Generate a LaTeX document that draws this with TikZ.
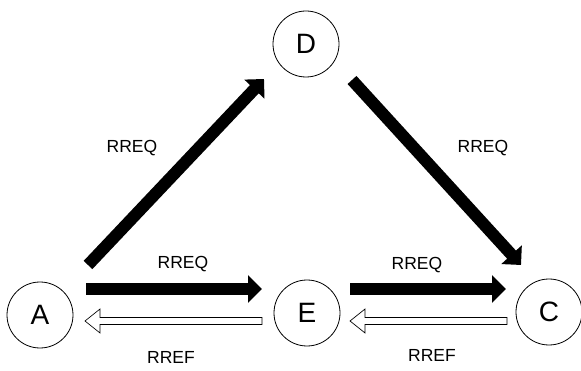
\documentclass[tikz,border=0pt]{standalone}
\usepackage{fontspec}
\setmainfont{Liberation Sans}
\usetikzlibrary{arrows.meta,calc}
\begin{document}
\begin{tikzpicture}[x=1pt,y=-1pt,
  station/.style={draw=black,line width=0.8pt,circle,minimum size=66pt,inner sep=0pt,font=\fontsize{28}{30}\selectfont},
  lbl/.style={font=\fontsize{17.5}{20}\selectfont,inner sep=0pt},
  solidarrow/.style={draw=black,line width=12pt,-{Triangle[width=27pt,length=14pt]}},
  hollow/.style={draw=black,line width=0.7pt,fill=white,line join=miter}]
\useasboundingbox (0,0) rectangle (581,371);
\node[station] (A) at (40,315) {A};
\node[station] (E) at (307,313) {E};
\node[station] (C) at (549,312) {C};
\node[station] (D) at (306,44) {D};
% solid RREQ arrows
\coordinate (ad1) at (88,265);
\coordinate (ad2) at (264,79);
\draw[solidarrow] (ad1) -- (ad2);
\coordinate (dc1) at (352,80);
\coordinate (dc2) at (521,265);
\draw[solidarrow] (dc1) -- (dc2);
\coordinate (ae1) at (86,289);
\coordinate (ae2) at (262,289);
\draw[solidarrow] (ae1) -- (ae2);
\coordinate (ec1) at (350,289);
\coordinate (ec2) at (506,289);
\draw[solidarrow] (ec1) -- (ec2);
% hollow RREF arrows
\coordinate (ea1) at (262,321);
\coordinate (ea2) at (85,321);
\draw[hollow] ($(ea1)+(0,-3.5)$) -- ($(ea2)+(15,-3.5)$) -- ($(ea2)+(15,-12)$) -- (ea2) -- ($(ea2)+(15,12)$) -- ($(ea2)+(15,3.5)$) -- ($(ea1)+(0,3.5)$) -- cycle;
\coordinate (ce1) at (507,321);
\coordinate (ce2) at (350,321);
\draw[hollow] ($(ce1)+(0,-3.5)$) -- ($(ce2)+(15,-3.5)$) -- ($(ce2)+(15,-12)$) -- (ce2) -- ($(ce2)+(15,12)$) -- ($(ce2)+(15,3.5)$) -- ($(ce1)+(0,3.5)$) -- cycle;
% labels
\node[lbl] (l1) at (132,148) {RREQ};
\node[lbl] (l2) at (483,148) {RREQ};
\node[lbl] (l3) at (183,264) {RREQ};
\node[lbl] (l4) at (417,265) {RREQ};
\node[lbl] (l5) at (171,357) {RREF};
\node[lbl] (l6) at (432,355) {RREF};
\end{tikzpicture}
\end{document}
